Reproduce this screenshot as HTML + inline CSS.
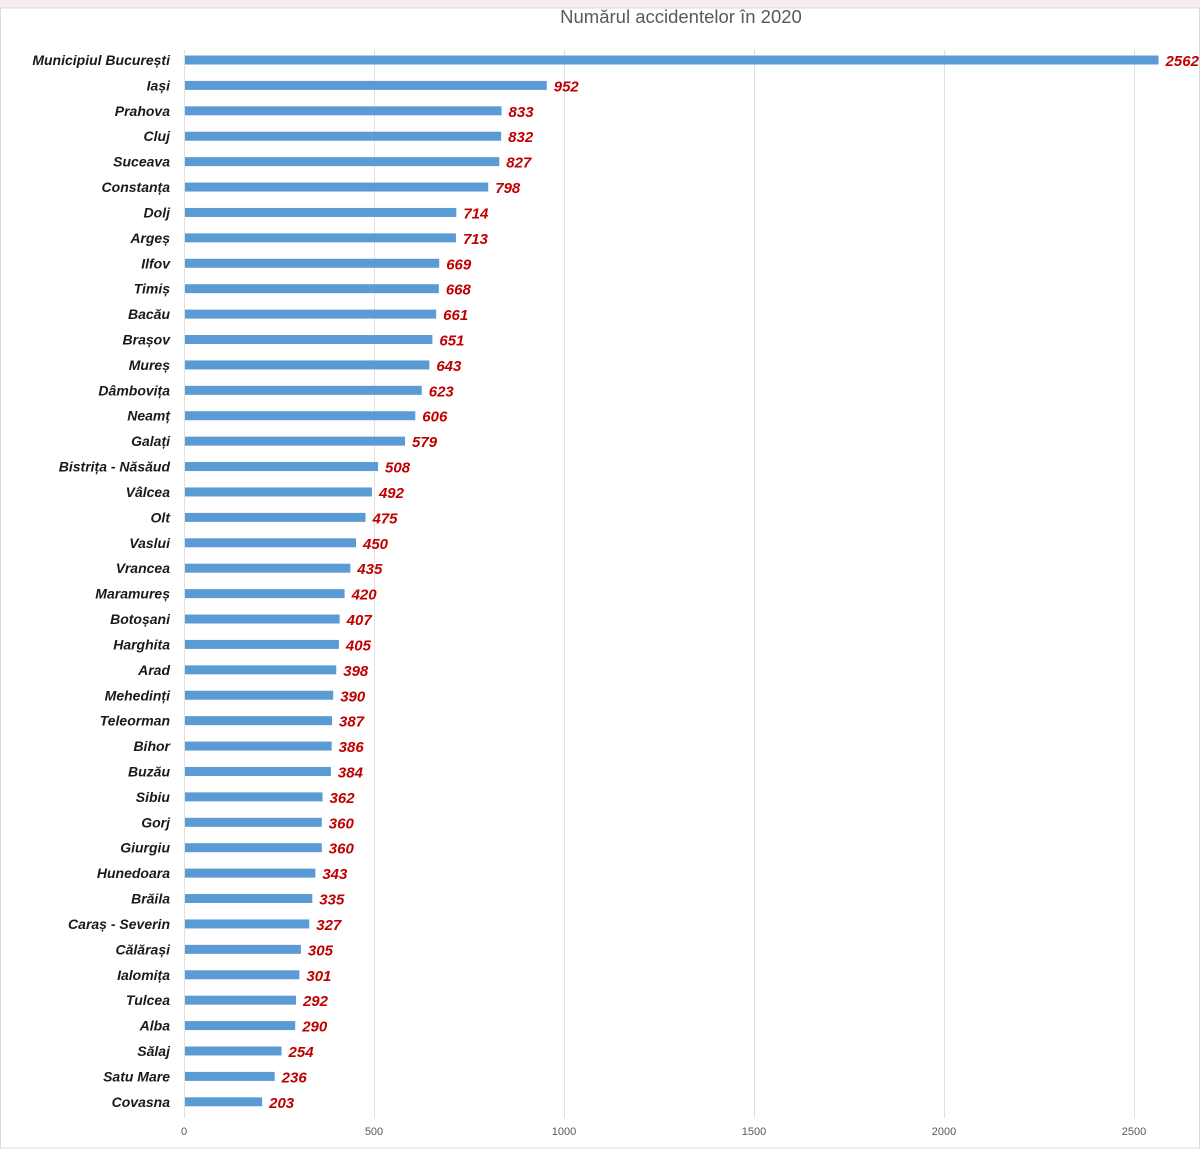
<!DOCTYPE html>
<html><head><meta charset="utf-8"><style>body{margin:0;background:#fff}svg{display:block}</style></head><body>
<svg id="s" width="1200" height="1163" xmlns="http://www.w3.org/2000/svg" font-family="Liberation Sans, sans-serif">
<rect x="0" y="0" width="1200" height="10" fill="#f6eeee"/>
<rect x="0.5" y="8" width="1199" height="1140" fill="#fff" stroke="#d9d9d9"/>
<text x="681" y="23" text-anchor="middle" font-size="18.5" fill="#595959">Numărul accidentelor în 2020</text>
<g stroke="#e0e0e0" stroke-width="1">
<line x1="184.5" y1="50" x2="184.5" y2="1118"/><line x1="374.5" y1="50" x2="374.5" y2="1118"/><line x1="564.5" y1="50" x2="564.5" y2="1118"/><line x1="754.5" y1="50" x2="754.5" y2="1118"/><line x1="944.5" y1="50" x2="944.5" y2="1118"/><line x1="1134.5" y1="50" x2="1134.5" y2="1118"/>
</g>
<g font-size="11" fill="#595959" text-anchor="middle">
<text x="184" y="1135">0</text><text x="374" y="1135">500</text><text x="564" y="1135">1000</text><text x="754" y="1135">1500</text><text x="944" y="1135">2000</text><text x="1134" y="1135">2500</text>
</g>
<g id="g"></g>
</svg>
<script>
var d=[["Municipiul București",2562],["Iași",952],["Prahova",833],["Cluj",832],["Suceava",827],["Constanța",798],["Dolj",714],["Argeș",713],["Ilfov",669],["Timiș",668],["Bacău",661],["Brașov",651],["Mureș",643],["Dâmbovița",623],["Neamț",606],["Galați",579],["Bistrița - Năsăud",508],["Vâlcea",492],["Olt",475],["Vaslui",450],["Vrancea",435],["Maramureș",420],["Botoșani",407],["Harghita",405],["Arad",398],["Mehedinți",390],["Teleorman",387],["Bihor",386],["Buzău",384],["Sibiu",362],["Gorj",360],["Giurgiu",360],["Hunedoara",343],["Brăila",335],["Caraș - Severin",327],["Călărași",305],["Ialomița",301],["Tulcea",292],["Alba",290],["Sălaj",254],["Satu Mare",236],["Covasna",203]];
var h='';d.forEach(function(r,i){var y=60+i*25.41,w=r[1]*0.38;
h+='<rect x="185" y="'+(y-4.5)+'" width="'+w+'" height="9" fill="#5b9bd5"/>';
h+='<text x="170" y="'+(y+5)+'" text-anchor="end" font-size="14" font-weight="bold" font-style="italic" fill="#1a1a1a">'+r[0]+'</text>';
h+='<text x="'+(185+w+7)+'" y="'+(y+6)+'" font-size="15" font-weight="bold" font-style="italic" fill="#c00000">'+r[1]+'</text>';});
document.getElementById('g').innerHTML=h;
</script>
</body></html>
